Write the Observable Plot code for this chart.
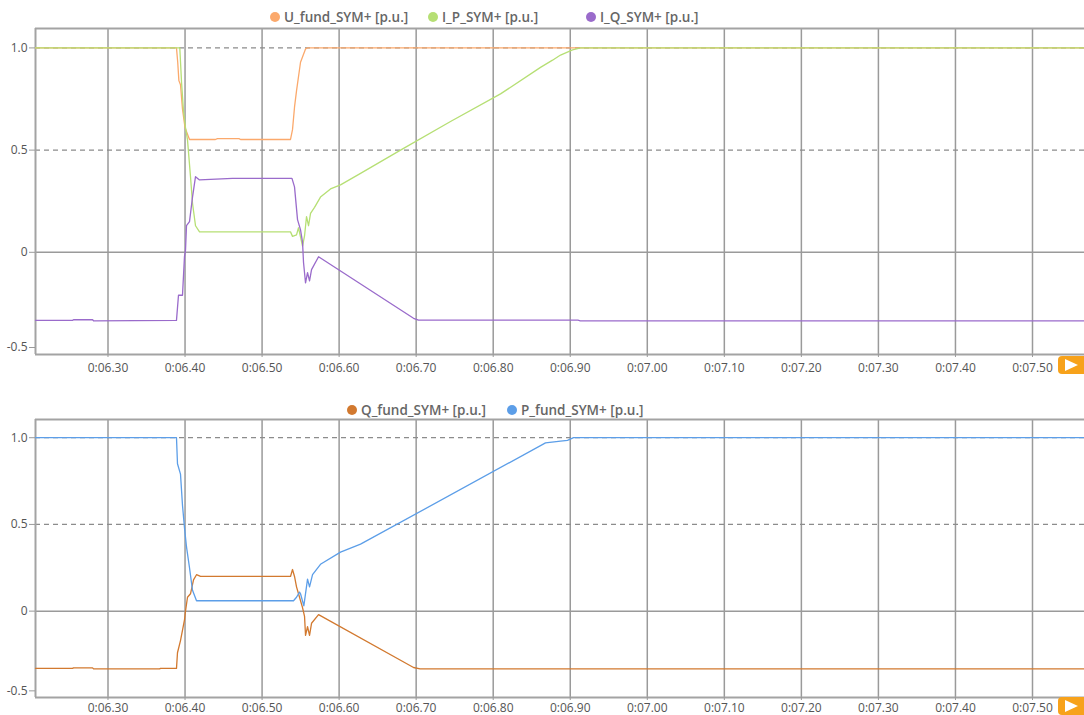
<!DOCTYPE html>
<html>
<head>
<meta charset="utf-8">
<script src="https://cdn.jsdelivr.net/npm/d3@7"></script>
<script src="https://cdn.jsdelivr.net/npm/@observablehq/plot@0.6"></script>
<style>
  html, body { margin: 0; padding: 0; background: #fff; }
  #wrap { position: relative; width: 1084px; height: 715px; overflow: hidden; font-family: "Open Sans", sans-serif; }
  .panel { position: absolute; left: 0; }
  .legend { position: absolute; display: flex; font-size: 13.5px; font-weight: 600; color: #666; line-height: 16px; white-space: nowrap; }
  .legend .item { display: flex; align-items: center; }
  .legend .dot { width: 10px; height: 10px; border-radius: 50%; margin-right: 4px; flex: none; }
  .btn { position: absolute; left: 1058px; width: 26px; height: 18px; background: #f7a21b; border-radius: 4px 0 0 4px; }
  .btn::after { content: ""; position: absolute; left: 7px; top: 3px; border-left: 13px solid #fff; border-top: 6px solid transparent; border-bottom: 6px solid transparent; }
  svg g[aria-label="x-axis tick"] path, svg g[aria-label="y-axis tick"] path { stroke: #9a9a9a; }
</style>
</head>
<body>
<div id="wrap"></div>
<script>
// ---------- data (time in seconds, values in p.u.) ----------
const xTicks = [6.30, 6.40, 6.50, 6.60, 6.70, 6.80, 6.90, 7.00, 7.10, 7.20, 7.30, 7.40, 7.50];
const yTicks = [1.0, 0.5, 0];
const yBottomTick = [-0.5];
const xDomain = [6.2059, 7.5675];

// top panel
const uT  = [6.2059, 6.3889, 6.3905, 6.3920, 6.3941, 6.3967, 6.4000, 6.4058, 6.4395, 6.4420, 6.4700, 6.4720, 6.5369, 6.5395, 6.5421, 6.5447, 6.5499, 6.5564, 6.5590, 7.5675];
const uV  = [1.0, 1.0, 0.93, 0.84, 0.82, 0.70, 0.61, 0.552, 0.552, 0.556, 0.556, 0.552, 0.552, 0.60, 0.71, 0.79, 0.93, 0.995, 1.0, 1.0];

const ipT = [6.2059, 6.3932, 6.3955, 6.3980, 6.4006, 6.4032, 6.4071, 6.4097, 6.4136, 6.4188, 6.5369, 6.5395, 6.5447, 6.5473, 6.5525, 6.5551, 6.5577, 6.5603, 6.5629, 6.5681, 6.5758, 6.5888, 6.6018, 6.6278, 6.6797, 6.7446, 6.8095, 6.8614, 6.8770, 6.8874, 6.9030, 6.9134, 7.5675];
const ipV = [1.0, 1.0, 0.83, 0.69, 0.61, 0.55, 0.37, 0.24, 0.13, 0.10, 0.10, 0.078, 0.085, 0.12, 0.03, 0.08, 0.175, 0.13, 0.19, 0.22, 0.27, 0.31, 0.33, 0.386, 0.50, 0.64, 0.775, 0.905, 0.94, 0.965, 0.99, 1.0, 1.0];

const iqT = [6.2059, 6.2540, 6.2552, 6.2800, 6.2812, 6.3889, 6.3915, 6.3967, 6.3993, 6.4006, 6.4019, 6.4058, 6.4097, 6.4136, 6.4188, 6.4616, 6.5388, 6.5421, 6.5460, 6.5499, 6.5525, 6.5538, 6.5564, 6.5590, 6.5616, 6.5642, 6.5733, 6.6966, 6.7030, 6.9100, 6.9130, 7.5675];
const iqV = [-0.333, -0.333, -0.330, -0.330, -0.335, -0.333, -0.21, -0.21, -0.02, 0.01, 0.13, 0.15, 0.27, 0.37, 0.354, 0.362, 0.362, 0.32, 0.16, 0.11, 0.05, -0.05, -0.15, -0.10, -0.14, -0.085, -0.022, -0.323, -0.332, -0.332, -0.335, -0.335];

// bottom panel
const qT  = [6.2059, 6.2540, 6.2552, 6.2800, 6.2812, 6.3670, 6.3682, 6.3889, 6.3902, 6.3941, 6.3993, 6.4006, 6.4032, 6.4071, 6.4110, 6.4149, 6.4201, 6.5369, 6.5395, 6.5421, 6.5447, 6.5473, 6.5499, 6.5525, 6.5551, 6.5564, 6.5590, 6.5616, 6.5642, 6.5733, 6.6966, 6.7050, 7.5675];
const qV  = [-0.330, -0.330, -0.327, -0.327, -0.333, -0.333, -0.330, -0.330, -0.24, -0.17, -0.05, 0.0, 0.08, 0.10, 0.18, 0.21, 0.20, 0.20, 0.24, 0.20, 0.14, 0.10, 0.06, 0.02, -0.03, -0.14, -0.09, -0.14, -0.07, -0.02, -0.325, -0.333, -0.333];

const pT  = [6.2059, 6.3889, 6.3902, 6.3941, 6.3967, 6.3993, 6.4019, 6.4058, 6.4097, 6.4149, 6.5408, 6.5447, 6.5486, 6.5499, 6.5542, 6.5590, 6.5616, 6.5655, 6.5758, 6.6018, 6.6278, 6.8679, 6.8874, 6.8964, 6.9043, 7.5675];
const pV  = [1.0, 1.0, 0.85, 0.79, 0.61, 0.48, 0.37, 0.25, 0.12, 0.06, 0.06, 0.08, 0.11, 0.10, 0.03, 0.185, 0.14, 0.21, 0.27, 0.34, 0.386, 0.97, 0.98, 0.985, 1.0, 1.0];

const topSeries = [
  {name: "U_fund_SYM+ [p.u.]", color: "#fba96c", t: uT, v: uV},
  {name: "I_P_SYM+ [p.u.]", color: "#b6df74", t: ipT, v: ipV},
  {name: "I_Q_SYM+ [p.u.]", color: "#9a6bcb", t: iqT, v: iqV}
];
const bottomSeries = [
  {name: "Q_fund_SYM+ [p.u.]", color: "#d2792f", t: qT, v: qV},
  {name: "P_fund_SYM+ [p.u.]", color: "#5c9ee8", t: pT, v: pV}
];

// ---------- drawing ----------
const fmtX = d => "0:" + d.toFixed(2).padStart(5, "0");
const fmtY = d => d === 0 ? "0" : d.toFixed(1);

function panel(series, yDomain, height, marginBottom, tickPadX) {
  const marks = [
    Plot.ruleX(xTicks, {x: d => d, stroke: "#9a9a9a", strokeWidth: 1.5}),
    Plot.ruleY([1.0, 0.5], {y: d => d, stroke: "#8c8c8c", strokeWidth: 1.2, strokeDasharray: "5,4"}),
    Plot.ruleY([0], {y: d => d, stroke: "#9a9a9a", strokeWidth: 1.5}),
    Plot.ruleY([yDomain[1]], {y: d => d, stroke: "#a3a3a3", strokeWidth: 2}),
    Plot.ruleY([yDomain[0]], {y: d => d, stroke: "#a3a3a3", strokeWidth: 2}),
    Plot.ruleX([xDomain[0]], {x: d => d, stroke: "#a3a3a3", strokeWidth: 2})
  ];
  for (const s of series) {
    const data = s.t.map((t, i) => ({t, v: s.v[i]}));
    marks.push(Plot.line(data, {x: "t", y: "v", stroke: s.color, strokeWidth: 1.3}));
  }
  marks.push(
    Plot.axisX(xTicks, {tickFormat: fmtX, tickSize: 3, tickPadding: tickPadX, label: null, fill: "#555"}),
    Plot.axisY(yTicks, {tickFormat: fmtY, tickSize: 6, tickPadding: 2, label: null, fill: "#555"}),
    Plot.axisY(yBottomTick, {tickFormat: fmtY, tickSize: 6, tickPadding: 2, label: null, fill: "#555", dy: -7})
  );
  return Plot.plot({
    width: 1084, height,
    marginTop: 28, marginBottom, marginLeft: 35, marginRight: 0,
    style: {fontFamily: "'Open Sans', sans-serif", fontSize: "12px", color: "#555", background: "transparent", overflow: "visible"},
    x: {domain: xDomain},
    y: {domain: yDomain},
    marks
  });
}

function legend(series, left, top, itemWidth) {
  const div = document.createElement("div");
  div.className = "legend";
  div.style.left = left + "px";
  div.style.top = top + "px";
  for (const s of series) {
    const it = document.createElement("div");
    it.className = "item";
    it.style.width = itemWidth + "px";
    const dot = document.createElement("span");
    dot.className = "dot";
    dot.style.background = s.color;
    const tx = document.createElement("span");
    tx.textContent = s.name;
    it.append(dot, tx);
    div.append(it);
  }
  return div;
}

const wrap = document.getElementById("wrap");

const p1 = panel(topSeries, [-0.5, 1.095], 380, 26, 6);
p1.classList.add("panel"); p1.style.top = "0px";
wrap.append(p1);

const p2 = panel(bottomSeries, [-0.498, 1.105], 324, 18, 3);
p2.classList.add("panel"); p2.style.top = "391px";
wrap.append(p2);

wrap.append(legend(topSeries, 270, 9, 158));
wrap.append(legend(bottomSeries, 347, 402, 160));

for (const top of [356, 697]) {
  const b = document.createElement("div");
  b.className = "btn";
  b.style.top = top + "px";
  wrap.append(b);
}
</script>
</body>
</html>
